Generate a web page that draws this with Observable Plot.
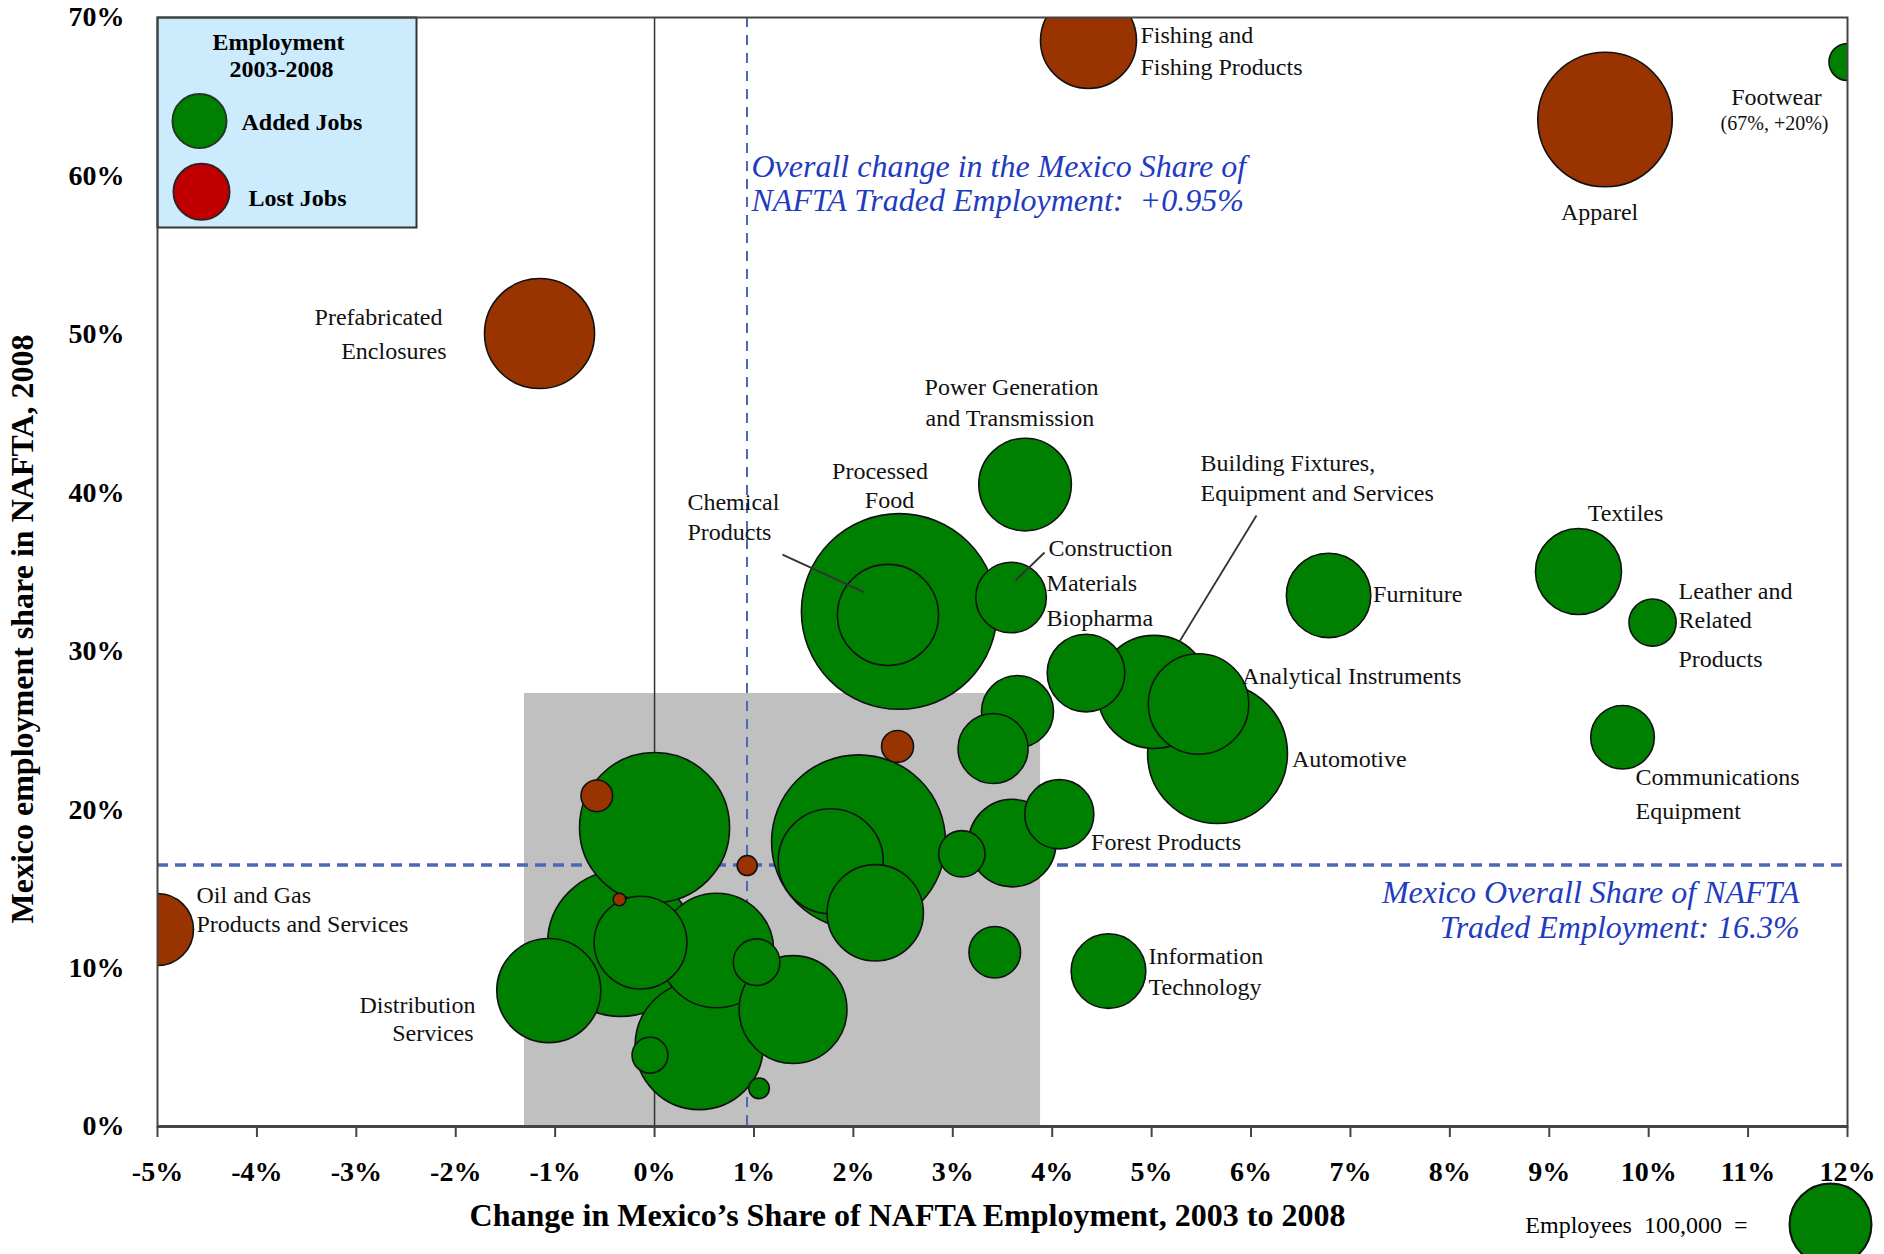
<!DOCTYPE html>
<html>
<head>
<meta charset="utf-8">
<script src="https://cdn.jsdelivr.net/npm/d3@7"></script>
<script src="https://cdn.jsdelivr.net/npm/@observablehq/plot@0.6"></script>
<style>
html, body { margin: 0; padding: 0; background: #fff; overflow: hidden; }
#chart svg { display: block; }
</style>
</head>
<body>
<div id="chart"></div>
<script>
// ---- Data, listed in drawing order ----
const sectors = [
  "Processed Food", "Unlabeled 1", "Unlabeled 2", "Unlabeled 3", "Automotive",
  "Apparel", "Unlabeled 4", "Unlabeled 5", "Building Fixtures, Equipment and Services", "Prefabricated Enclosures",
  "Unlabeled 6", "Unlabeled 7", "Distribution Services", "Chemical Products", "Analytical Instruments",
  "Unlabeled 8", "Fishing and Fishing Products", "Unlabeled 9", "Power Generation and Transmission", "Unlabeled 10",
  "Textiles", "Furniture", "Biopharma", "Information Technology", "Oil and Gas Products and Services",
  "Unlabeled 11", "Construction Materials", "Unlabeled 12", "Forest Products", "Communications Equipment",
  "Unlabeled 13", "Leather and Related Products", "Unlabeled 14", "Unlabeled 15", "Footwear",
  "Unlabeled 16", "Unlabeled 17", "Unlabeled 18", "Unlabeled 19", "Unlabeled 20", "Unlabeled 21"
];
// Change in Mexico's share of NAFTA employment 2003-2008 (%)
const shareChange = [
  2.461, 2.052, -0.342, 0.0, 5.663,
  9.561, 0.449, 0.623, 5.024, -1.157,
  1.393, 1.772, -1.064, 2.348, 5.472,
  2.220, 4.365, -0.141, 3.727, 3.598,
  9.294, 6.780, 4.340, 4.566, -5.0,
  3.651, 3.586, 3.405, 4.071, 9.737,
  3.422, 10.039, 1.026, 3.091, 12.0,
  -0.046, 2.444, -0.581, 1.051, 0.932, -0.353
];
// Mexico employment share in NAFTA, 2008 (%)
const share2008 = [
  32.51, 17.97, 11.55, 18.87, 23.54,
  63.56, 5.11, 11.11, 27.43, 50.05,
  7.38, 16.74, 8.58, 32.29, 26.67,
  13.49, 68.55, 11.61, 40.52, 17.89,
  35.03, 33.52, 28.62, 9.81, 12.43,
  26.19, 33.39, 23.86, 19.71, 24.57,
  11.00, 31.81, 10.37, 17.21, 67.19,
  4.50, 23.99, 20.87, 2.41, 16.47, 14.33
];
// Employees (bubble size)
const employees = [
  569000, 450000, 317000, 335000, 291000,
  269000, 244000, 195000, 190000, 180000,
  173000, 164000, 161000, 152000, 150000,
  138000, 137000, 128000, 127500, 114000,
  110000, 106000, 89600, 82800, 77100,
  77100, 74100, 72900, 71200, 60200,
  39600, 33100, 32300, 32000, 20400,
  19100, 15200, 14900, 6300, 5950, 2360
];
const jobTrend = [
  "Added Jobs", "Added Jobs", "Added Jobs", "Added Jobs", "Added Jobs",
  "Lost Jobs", "Added Jobs", "Added Jobs", "Added Jobs", "Lost Jobs",
  "Added Jobs", "Added Jobs", "Added Jobs", "Added Jobs", "Added Jobs",
  "Added Jobs", "Lost Jobs", "Added Jobs", "Added Jobs", "Added Jobs",
  "Added Jobs", "Added Jobs", "Added Jobs", "Added Jobs", "Lost Jobs",
  "Added Jobs", "Added Jobs", "Added Jobs", "Added Jobs", "Added Jobs",
  "Added Jobs", "Added Jobs", "Added Jobs", "Added Jobs", "Added Jobs",
  "Added Jobs", "Lost Jobs", "Lost Jobs", "Added Jobs", "Lost Jobs", "Lost Jobs"
];

const xTicks = [-5, -4, -3, -2, -1, 0, 1, 2, 3, 4, 5, 6, 7, 8, 9, 10, 11, 12];
const yTicks = [0, 10, 20, 30, 40, 50, 60, 70];

const overallChange = 0.93;   // vertical dashed reference
const overallShare = 16.5;    // horizontal dashed reference
const highlightBox = [{x1: -1.308, x2: 3.883, y1: 0, y2: 27.33}];

// Label anchors (data units)
const labelsStart = [
  {text: "Fishing and", x: 4.888, y: 68.86},
  {text: "Fishing Products", x: 4.888, y: 66.86},
  {text: "Power Generation", x: 2.716, y: 46.65},
  {text: "and Transmission", x: 2.726, y: 44.69},
  {text: "Chemical", x: 0.331, y: 39.39},
  {text: "Products", x: 0.331, y: 37.49},
  {text: "Construction", x: 3.963, y: 36.48},
  {text: "Materials", x: 3.943, y: 34.27},
  {text: "Biopharma", x: 3.943, y: 32.06},
  {text: "Building Fixtures,", x: 5.492, y: 41.85},
  {text: "Equipment and Services", x: 5.492, y: 39.95},
  {text: "Analytical Instruments", x: 5.909, y: 28.40},
  {text: "Automotive", x: 6.412, y: 23.16},
  {text: "Furniture", x: 7.228, y: 33.58},
  {text: "Leather and", x: 10.30, y: 33.77},
  {text: "Related", x: 10.30, y: 31.94},
  {text: "Products", x: 10.30, y: 29.48},
  {text: "Communications", x: 9.868, y: 22.03},
  {text: "Equipment", x: 9.868, y: 19.88},
  {text: "Forest Products", x: 4.391, y: 17.94},
  {text: "Information", x: 4.969, y: 10.73},
  {text: "Technology", x: 4.969, y: 8.77},
  {text: "Oil and Gas", x: -4.608, y: 14.58},
  {text: "Products and Services", x: -4.608, y: 12.75}
];
const labelsMiddle = [
  {text: "Processed", x: 2.268, y: 41.34},
  {text: "Food", x: 2.363, y: 39.51},
  {text: "Apparel", x: 9.506, y: 57.69},
  {text: "Footwear", x: 11.286, y: 64.95},
  {text: "Textiles", x: 9.767, y: 38.69}
];
const labelsSmall = [{text: "(67%, +20%)", x: 11.266, y: 63.31}];
const labelsEnd = [
  {text: "Prefabricated", x: -2.133, y: 51.06},
  {text: "Enclosures", x: -2.093, y: 48.92},
  {text: "Distribution", x: -1.801, y: 7.64},
  {text: "Services", x: -1.821, y: 5.87}
];
const leaders = [
  {x1: 1.287, y1: 36.10, x2: 2.112, y2: 33.71},
  {x1: 3.923, y1: 36.23, x2: 3.631, y2: 34.46},
  {x1: 6.055, y1: 38.57, x2: 5.281, y2: 30.61}
];
const notesStart = [
  {text: "Overall change in the Mexico Share of", x: 0.975, y: 60.59},
  {text: "NAFTA Traded Employment:\u00a0 +0.95%", x: 0.975, y: 58.45}
];
const notesEnd = [
  {text: "Mexico Overall Share of NAFTA", x: 11.518, y: 14.77},
  {text: "Traded Employment: 16.3%", x: 11.518, y: 12.56}
];
const legendItems = ["Added Jobs", "Lost Jobs"];
const sizeLegendValue = 100000;

// ---- Build ----
const data = sectors.map((s, i) => ({
  sector: s, x: shareChange[i], y: share2008[i], emp: employees[i], trend: jobTrend[i]
}));

const W = 1884, H = 1254;
const mL = 157, mR = 37, mT = 17, mB = 128;
const fw = W - mL - mR, fh = H - mT - mB;
const serif = "'Liberation Serif', 'Times New Roman', serif";
const blue = "#1f3cc0";
const dashBlue = "#4a69b0";

const plot = Plot.plot({
  width: W, height: H,
  marginLeft: mL, marginRight: mR, marginTop: mT, marginBottom: mB,
  style: {fontFamily: serif, background: "#fff", color: "#000"},
  x: {domain: [-5, 12], label: null},
  y: {domain: [0, 70], label: null},
  r: {type: "sqrt", domain: [0, 100000], range: [0, 41]},
  color: {domain: legendItems, range: ["#008000", "#993300"]},
  marks: [
    Plot.rect(highlightBox, {x1: "x1", x2: "x2", y1: "y1", y2: "y2", fill: "#c0c0c0"}),
    Plot.ruleX([0], {stroke: "#333", strokeWidth: 1.5}),
    Plot.ruleX([overallChange], {stroke: dashBlue, strokeWidth: 2, strokeDasharray: "10,8"}),
    Plot.ruleY([overallShare], {stroke: dashBlue, strokeWidth: 3.5, strokeDasharray: "11,7"}),
    // legend box
    Plot.frame({fill: "#ccebfc", stroke: "#333", strokeWidth: 2, insetRight: fw - 259, insetBottom: fh - 210}),
    // bubbles
    Plot.dot(data, {x: "x", y: "y", r: "emp", fill: "trend", stroke: "#111", strokeWidth: 1.6, sort: null, clip: true}),
    // leader lines
    Plot.link(leaders, {x1: "x1", y1: "y1", x2: "x2", y2: "y2", stroke: "#333", strokeWidth: 1.8}),
    // labels
    Plot.text(labelsStart, {x: "x", y: "y", text: "text", textAnchor: "start", lineAnchor: "middle", fontSize: 24, fill: "#111"}),
    Plot.text(labelsMiddle, {x: "x", y: "y", text: "text", textAnchor: "middle", lineAnchor: "middle", fontSize: 24, fill: "#111"}),
    Plot.text(labelsSmall, {x: "x", y: "y", text: "text", textAnchor: "middle", lineAnchor: "middle", fontSize: 20, fill: "#111"}),
    Plot.text(labelsEnd, {x: "x", y: "y", text: "text", textAnchor: "end", lineAnchor: "middle", fontSize: 24, fill: "#111"}),
    Plot.text(notesStart, {x: "x", y: "y", text: "text", textAnchor: "start", lineAnchor: "middle", fontSize: 32, fontStyle: "italic", fill: blue}),
    Plot.text(notesEnd, {x: "x", y: "y", text: "text", textAnchor: "end", lineAnchor: "middle", fontSize: 32, fontStyle: "italic", fill: blue}),
    // legend contents
    Plot.text(["Employment"], {frameAnchor: "top-left", dx: 121, dy: 25, textAnchor: "middle", lineAnchor: "middle", fontSize: 24, fontWeight: "bold"}),
    Plot.text(["2003-2008"], {frameAnchor: "top-left", dx: 124, dy: 52, textAnchor: "middle", lineAnchor: "middle", fontSize: 24, fontWeight: "bold"}),
    Plot.dot([legendItems[0]], {frameAnchor: "top-left", dx: 42, dy: 103.5, r: 27, fill: "#008000", stroke: "#1f3a1f", strokeWidth: 2}),
    Plot.dot([legendItems[1]], {frameAnchor: "top-left", dx: 44, dy: 174.3, r: 28, fill: "#c00000", stroke: "#3a1f1f", strokeWidth: 2}),
    Plot.text([legendItems[0]], {frameAnchor: "top-left", dx: 84, dy: 104.7, textAnchor: "start", lineAnchor: "middle", fontSize: 24, fontWeight: "bold"}),
    Plot.text([legendItems[1]], {frameAnchor: "top-left", dx: 91, dy: 181.3, textAnchor: "start", lineAnchor: "middle", fontSize: 24, fontWeight: "bold"}),
    // frame and axes
    Plot.frame({stroke: "#444", strokeWidth: 2}),
    Plot.ruleY([0], {stroke: "#444", strokeWidth: 3}),
    Plot.axisX({ticks: xTicks, tickFormat: d => d + "%", tickSize: 11, tickPadding: 24, fontSize: 28, fontWeight: "bold", stroke: "#444", strokeWidth: 2, label: null}),
    Plot.axisY({ticks: yTicks, tickFormat: d => d + "%", tickSize: 0, tickPadding: 33, fontSize: 28, fontWeight: "bold", label: null}),
    Plot.text(["Mexico employment share in NAFTA, 2008"], {frameAnchor: "left", dx: -135, dy: 57, rotate: -90, textAnchor: "middle", lineAnchor: "middle", fontSize: 32, fontWeight: "bold"}),
    Plot.text(["Change in Mexico\u2019s Share of NAFTA Employment, 2003 to 2008"], {frameAnchor: "bottom", dx: -95, dy: 89, textAnchor: "middle", lineAnchor: "middle", fontSize: 32, fontWeight: "bold"}),
    // size legend
    Plot.text(["Employees\u00a0 100,000\u00a0 ="], {frameAnchor: "bottom-right", dx: -100, dy: 99, textAnchor: "end", lineAnchor: "middle", fontSize: 24}),
    Plot.dot([sizeLegendValue], {frameAnchor: "bottom-right", dx: -17, dy: 98, r: d => d, fill: "#008000", stroke: "#111", strokeWidth: 2})
  ]
});
document.getElementById("chart").append(plot);
</script>
</body>
</html>
